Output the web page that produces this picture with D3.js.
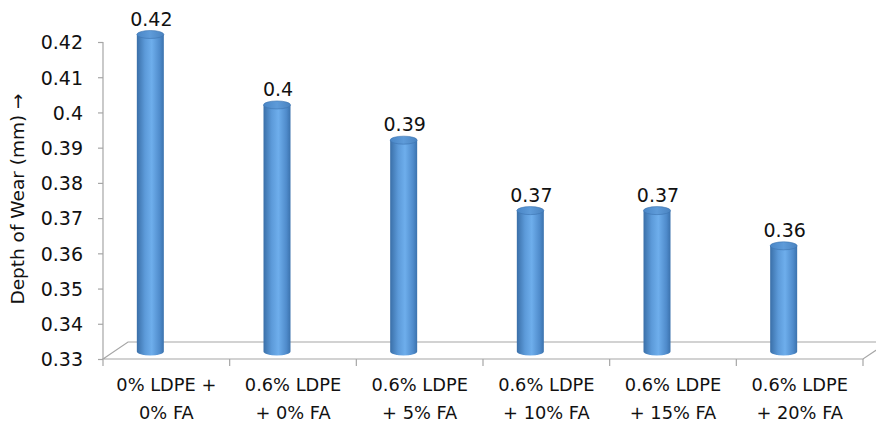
<!DOCTYPE html>
<html><head><meta charset="utf-8">
<script src="https://cdn.jsdelivr.net/npm/d3@7"></script>
<style>body{margin:0;background:#fff}text{font-family:"DejaVu Sans",sans-serif;fill:#111}</style>
</head><body><svg id="c" width="876" height="428"></svg>
<script>
const categories = [["0% LDPE +","0% FA"],["0.6% LDPE","+ 0% FA"],["0.6% LDPE","+ 5% FA"],["0.6% LDPE","+ 10% FA"],["0.6% LDPE","+ 15% FA"],["0.6% LDPE","+ 20% FA"]];
const values = [0.42, 0.40, 0.39, 0.37, 0.37, 0.36];
const labels = ["0.42","0.4","0.39","0.37","0.37","0.36"];
const yTicks = [0.33,0.34,0.35,0.36,0.37,0.38,0.39,0.40,0.41,0.42];
const yTitle = "Depth of Wear (mm) \u2192";

const svg = d3.select("#c");
const L = 103, R = 863, T = 42, B = 359;
const depthX = 25, depthY = -17;
const x = d3.scaleBand().domain(d3.range(categories.length)).range([L, R]);
const y = d3.scaleLinear().domain([0.33, 0.42]).range([B, T]);

const defs = svg.append("defs");
const g = defs.append("linearGradient").attr("id","cyl").attr("x1","0").attr("x2","1").attr("y1","0").attr("y2","0");
[[0,"#3a6fa8"],[0.3,"#5c9ad9"],[0.55,"#6eaeec"],[0.85,"#4f8bcb"],[1,"#3b72ad"]].forEach(([o,c])=>g.append("stop").attr("offset",o).attr("stop-color",c));
const gt = defs.append("linearGradient").attr("id","top").attr("x1","0").attr("x2","1");
[[0,"#4a86c6"],[0.5,"#5e9bd9"],[1,"#4a83c0"]].forEach(([o,c])=>gt.append("stop").attr("offset",o).attr("stop-color",c));

const grey = "#a6a6a6";
// floor
svg.append("path").attr("fill","none").attr("stroke",grey).attr("stroke-width",1.2)
  .attr("d",`M${L},${B}L${L+depthX},${B+depthY}L${R+depthX},${B+depthY}L${R},${B}Z`);

// y axis
const yAxis = d3.axisLeft(y).tickValues(yTicks).tickSize(5).tickPadding(15)
  .tickFormat(d=>d3.format("")(+d.toFixed(2)));
const ya = svg.append("g").attr("transform",`translate(${L},0)`).call(yAxis);
ya.select(".domain").attr("stroke",grey).attr("stroke-width",1.2).attr("d",`M0,${T}V${B}`);
ya.selectAll(".tick line").attr("stroke",grey).attr("stroke-width",1.2);
ya.selectAll(".tick text").style("font-size","19px").style("font-family","DejaVu Sans").attr("fill","#111").attr("dy","0.36em");

// x axis
const xAxis = d3.axisBottom(x).tickSize(0).tickFormat("");
const xa = svg.append("g").attr("transform",`translate(0,${B})`).call(xAxis);
xa.select(".domain").remove();
const bounds = d3.range(categories.length+1).map(i=> i<categories.length ? x(i) : x(i-1)+x.bandwidth());
svg.append("g").selectAll("line").data(bounds).join("line")
  .attr("x1",d=>d).attr("x2",d=>d).attr("y1",B).attr("y2",B+7).attr("stroke",grey).attr("stroke-width",1.2);
const xl = svg.append("g").selectAll("text").data(categories).join("text")
  .attr("text-anchor","middle").style("font-size","17.8px")
  .attr("transform",(d,i)=>`translate(${x(i)+x.bandwidth()/2},391)`);
xl.selectAll("tspan").data(d=>d).join("tspan").attr("x",0).attr("dy",(d,j)=>j?28:0).text(d=>d);

// cylinders
const bw = 27, ry = 4, off = -16, lift = -7.5;
const bars = svg.append("g").selectAll("g").data(values).join("g");
bars.each(function(v,i){
  const cx = x(i)+x.bandwidth()/2+off;
  const yt = y(v)+lift, yb = y(0.33)+lift;
  const s = d3.select(this);
  s.append("path").attr("fill","url(#cyl)")
   .attr("d",`M${cx-bw/2},${yt}L${cx-bw/2},${yb}A${bw/2},${ry} 0 0 0 ${cx+bw/2},${yb}L${cx+bw/2},${yt}Z`);
  s.append("ellipse").attr("cx",cx).attr("cy",yt).attr("rx",bw/2).attr("ry",ry)
   .attr("fill","url(#top)").attr("stroke","#3d74b0").attr("stroke-width",0.6);
  s.append("text").attr("x",cx+1).attr("y",yt-9).attr("text-anchor","middle")
   .style("font-size","19px").text(labels[i]);
});

// y title
svg.append("text").attr("transform","translate(24,199) rotate(-90)").attr("text-anchor","middle")
  .style("font-size","18.5px").text(yTitle);
</script></body></html>
